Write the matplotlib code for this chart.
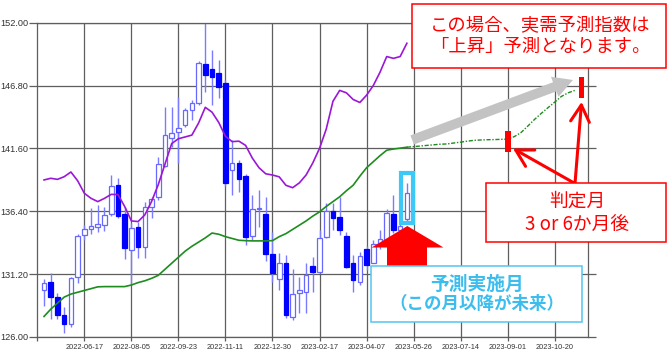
import matplotlib
matplotlib.use('Agg')
import matplotlib.pyplot as plt
import matplotlib.dates as mdates
from matplotlib.patches import Rectangle, Polygon
import pandas as pd

plt.rcParams['font.family'] = ['Noto Sans CJK JP', 'DejaVu Sans']

# weekly candles, 2022-05-06 .. 2023-05-19
opens = [129.89, 130.55, 129.34, 127.82, 127.08, 130.94, 134.41, 134.96, 135.12, 135.24,
         136.15, 138.58, 136.18, 133.20, 135.13, 133.47, 136.78, 137.61, 140.17, 142.43,
         142.99, 143.54, 144.78, 145.39, 148.56, 148.14, 147.81, 147.04, 139.82, 140.37,
         139.32, 134.36, 136.59, 136.18, 132.84, 130.80, 132.10, 127.68, 129.61, 129.75,
         131.88, 131.41, 134.30, 136.42, 135.90, 134.38, 132.15, 130.58, 133.25, 132.15,
         133.70, 134.03, 136.18, 134.85, 135.74]
highs = [130.77, 131.27, 129.67, 128.51, 130.99, 134.52, 135.24, 136.70, 136.92, 136.78,
         139.40, 139.13, 136.78, 135.40, 135.54, 137.20, 137.61, 140.92, 145.00, 145.00,
         145.88, 144.92, 145.60, 148.86, 151.95, 149.74, 148.91, 147.30, 142.30, 140.64,
         139.45, 137.75, 138.16, 137.55, 134.71, 132.92, 132.79, 131.60, 130.99, 132.10,
         132.65, 134.85, 137.11, 137.06, 137.61, 134.71, 132.79, 133.06, 133.50, 134.03,
         134.85, 136.56, 137.75, 137.20, 138.77]
lows = [128.59, 127.46, 127.46, 126.31, 126.86, 130.44, 134.03, 134.52, 134.71, 134.80,
        136.05, 135.82, 132.45, 130.30, 132.51, 132.51, 135.82, 137.33, 140.10, 141.75,
        140.37, 143.40, 143.95, 145.19, 146.30, 145.19, 145.74, 138.50, 137.75, 138.02,
        133.61, 134.03, 135.13, 132.32, 130.58, 129.89, 127.55, 127.41, 127.96, 127.96,
        129.75, 131.30, 134.20, 134.85, 134.44, 131.70, 129.75, 130.30, 131.54, 132.10,
        133.30, 133.80, 134.60, 134.50, 135.60]
closes = [130.50, 129.34, 127.82, 127.08, 130.85, 134.36, 134.96, 135.18, 135.32, 136.09,
          138.52, 136.01, 133.34, 135.05, 133.47, 136.78, 137.42, 140.28, 142.71, 142.90,
          143.26, 144.78, 145.39, 148.64, 147.67, 147.48, 146.71, 138.71, 140.37, 139.07,
          134.30, 136.59, 136.70, 132.87, 131.27, 132.10, 127.82, 129.56, 129.89, 131.13,
          131.35, 134.16, 136.42, 135.87, 134.85, 131.82, 130.72, 132.70, 131.96, 133.69,
          134.07, 136.23, 134.85, 135.20, 137.94]

purple = [138.99, 139.13, 139.04, 139.26, 139.65, 138.93, 137.89, 137.47, 137.20, 137.47,
          137.80, 137.78, 136.80, 135.60, 135.55, 136.10, 137.20, 138.60, 140.30, 142.00,
          142.40, 142.55, 142.70, 143.70, 145.00, 144.60, 143.75, 142.60, 142.16, 142.20,
          141.85, 140.80, 140.00, 139.50, 139.40, 139.25, 138.55, 138.35, 138.75, 139.40,
          140.40, 141.60, 143.20, 145.50, 146.40, 146.20, 145.65, 145.40, 146.00, 146.80,
          147.90, 149.20, 149.05, 149.20, 150.30]
green = [127.70, 128.30, 128.80, 129.30, 129.55, 129.70, 129.85, 130.00, 130.15, 130.17,
         130.17, 130.17, 130.17, 130.30, 130.50, 130.65, 130.85, 131.10, 131.60, 132.10,
         132.60, 133.10, 133.50, 133.85, 134.20, 134.60, 134.50, 134.30, 134.15, 134.00,
         133.97, 133.95, 133.95, 133.95, 133.97, 134.30, 134.55, 134.90, 135.25, 135.60,
         136.00, 136.35, 136.80, 137.20, 137.60, 138.10, 138.55, 139.30, 140.00, 140.50,
         141.00, 141.45, 141.55, 141.62, 141.70]

# forecast line, 2023-05-19 .. 2023-11-10
forecast = [141.70, 141.75, 141.80, 141.85, 141.90, 141.95, 141.97, 142.05, 142.12, 142.20,
            142.27, 142.30, 142.32, 142.33, 142.35, 142.37, 142.58, 142.92, 143.45, 144.00,
            144.50, 144.97, 145.43, 145.90, 146.20, 146.40]

judge_dates = ['2023-09-01', '2023-11-17']
judge_low = [141.33, 145.74]
judge_high = [143.07, 147.48]

tick_dates = ['2022-06-17', '2022-08-05', '2022-09-23', '2022-11-11', '2022-12-30',
              '2023-02-17', '2023-04-07', '2023-05-26', '2023-07-14', '2023-09-01',
              '2023-10-20']
y_ticks = [126.00, 131.20, 136.40, 141.60, 146.80, 152.00]


def dn(s):
    return mdates.date2num(pd.Timestamp(s).to_pydatetime())


cx = [mdates.date2num(d) for d in pd.date_range('2022-05-06', periods=len(opens), freq='7D').to_pydatetime()]
fx = [mdates.date2num(d) for d in pd.date_range('2023-05-19', periods=len(forecast), freq='7D').to_pydatetime()]

W, H = 670, 355
fig = plt.figure(figsize=(W / 100, H / 100), dpi=100)
ax = fig.add_axes([37.3 / W, 18 / H, 551 / W, 314.3 / H])

gridc = '#5e5e5e'
ax.grid(True, color=gridc, lw=0.9, zorder=0)
ax.set_axisbelow(True)
for sp in ax.spines.values():
    sp.set_color(gridc)
    sp.set_linewidth(0.9)

# candles
up = [c >= o for o, c in zip(opens, closes)]
ax.vlines(cx, lows, highs, color='#7b7bff', lw=1.0, zorder=2)
ux = [x for x, u in zip(cx, up) if u]
dx = [x for x, u in zip(cx, up) if not u]
ub = [min(o, c) for o, c, u in zip(opens, closes, up) if u]
uh = [abs(c - o) for o, c, u in zip(opens, closes, up) if u]
db = [min(o, c) for o, c, u in zip(opens, closes, up) if not u]
dh = [abs(c - o) for o, c, u in zip(opens, closes, up) if not u]
ax.bar(ux, uh, bottom=ub, width=4.8, facecolor='white', edgecolor='#6868ff', lw=0.9, zorder=3)
ax.bar(dx, dh, bottom=db, width=4.8, facecolor='#0000ff', edgecolor='#0000ff', lw=0.9, zorder=3)

ax.plot(cx, purple, color='#9b17d6', lw=1.2, zorder=4)
ax.plot(cx, green, color='#1e8c1e', lw=1.2, zorder=4)
ax.plot(fx, forecast, color='#1e8c1e', lw=1.0, ls=(0, (3, 1.2, 1, 1.2)), zorder=4)

# judgement months
jx = [dn(d) for d in judge_dates]
ax.bar(jx, [h - l for l, h in zip(judge_low, judge_high)], bottom=judge_low, width=6.0,
       color='#ff0000', zorder=6)

# highlight latest candle
ax.add_patch(Rectangle((cx[-1] - 6.3, 135.40), 13.0, 4.13, fill=False,
                       edgecolor='#3ec8f5', lw=3.0, zorder=6))

# gray trend arrow
ax.annotate('', xy=(dn('2023-11-03') + 5, 147.26), xytext=(dn('2023-05-26') - 1.5, 142.30),
            arrowprops=dict(arrowstyle='simple,head_length=1.0,head_width=1.1,tail_width=0.5',
                            mutation_scale=14, color='#c3c3c3', lw=0, shrinkA=0, shrinkB=0),
            zorder=5)

ax.set_xlim(dn('2022-04-29'), dn('2023-11-24'))
ax.set_ylim(126, 152)
ax.set_xticks([dn(d) for d in tick_dates])
ax.set_xticklabels(tick_dates)
ax.set_xticks([dn('2022-04-29')], minor=True)
ax.set_yticks(y_ticks)
ax.set_yticklabels(['%.2f' % v for v in y_ticks])
ax.tick_params(axis='y', which='major', length=5.6, width=0.9, color=gridc, right=True,
               labelsize=6.6, pad=1, labelcolor='#333333', labelfontfamily='Liberation Sans')
ax.tick_params(axis='x', which='both', length=2.9, width=0.9, color=gridc,
               labelsize=5.3, pad=2, labelcolor='#333333', labelfontfamily='Liberation Sans')

# overlay in pixel coordinates for call-outs
ov = fig.add_axes([0, 0, 1, 1], zorder=5)
ov.set_xlim(0, W)
ov.set_ylim(H, 0)
ov.axis('off')
ov.patch.set_visible(False)

red = '#ff0000'
cyan = '#3bbdee'

# top box
ov.add_patch(Rectangle((411.7, 4), 254, 63.7, facecolor='white', edgecolor=red, lw=1.1))
ov.text(540, 25, 'この場合、実需予測指数は', ha='center', va='center', fontsize=13.2, color=red)
ov.text(540, 47, '「上昇」予測となります。', ha='center', va='center', fontsize=13.2, color=red)

# judgement box
ov.add_patch(Rectangle((486, 183.3), 179.7, 58.4, facecolor='white', edgecolor=red, lw=1.1))
ov.text(577, 201, '判定月', ha='center', va='center', fontsize=13.5, color=red)
ov.text(577, 225, '3 or 6か月後', ha='center', va='center', fontsize=13.5, color=red)

# pointer arrows from judgement box
for tip in [(dn('2023-09-01') + 5.5, 141.6), (dn('2023-11-17'), 145.45)]:
    ax.annotate('', xy=tip, xytext=(575, 183.5), textcoords=ov.transData,
                arrowprops=dict(arrowstyle='->,head_length=0.8,head_width=0.45',
                                mutation_scale=15, color=red, lw=2.2, shrinkA=0, shrinkB=0),
                annotation_clip=False, zorder=7)

# big red up arrow
ov.add_patch(Polygon([(371.5, 247.5), (407.3, 226), (443.5, 247.5), (427, 247.5), (427, 267),
                      (387, 267), (387, 247.5)], closed=True, facecolor=red, edgecolor='none'))

# forecast month box
ov.add_patch(Rectangle((370.7, 266), 211, 56.3, facecolor='white', edgecolor='#55c5ef', lw=1.1))
ov.text(477, 284, '予測実施月', ha='center', va='center', fontsize=13.5, color=cyan,
        fontweight='bold')
ov.text(477, 304, '（この月以降が未来）', ha='center', va='center', fontsize=12.6, color=cyan,
        fontweight='bold')

fig.savefig('out.png', dpi=100)
